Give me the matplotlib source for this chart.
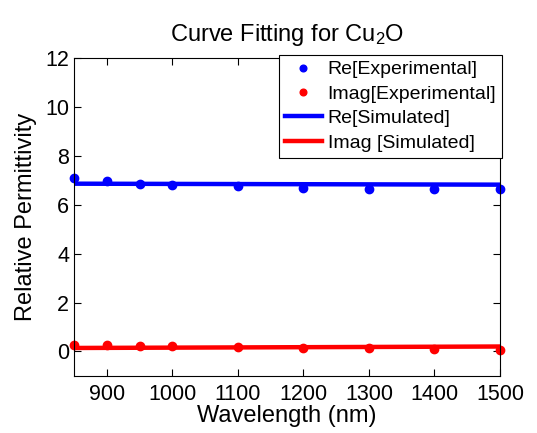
import matplotlib
matplotlib.use("Agg")
import matplotlib.pyplot as plt

plt.rcParams['font.family'] = ['Liberation Sans', 'DejaVu Sans']
plt.rcParams['mathtext.fontset'] = 'custom'
plt.rcParams['mathtext.rm'] = 'Liberation Sans'
plt.rcParams['mathtext.it'] = 'Liberation Sans'

wavelength = [850, 900, 950, 1000, 1100, 1200, 1300, 1400, 1500]
re_exp = [7.1, 6.95, 6.84, 6.8, 6.76, 6.7, 6.66, 6.66, 6.64]
imag_exp = [0.28, 0.26, 0.24, 0.22, 0.18, 0.15, 0.12, 0.09, 0.07]
sim_wl = [850, 1500]
re_sim = [6.86, 6.82]
imag_sim = [0.14, 0.2]

fig = plt.figure(figsize=(5.37, 4.33), dpi=100)
ax = fig.add_axes([0.138, 0.132, 0.793, 0.734])

# markers are not clipped at the axes edge (matlab style)
ax.plot(wavelength, re_exp, 'o', color='#0000ff', markersize=6, label='Re[Experimental]', clip_on=False)
ax.plot(wavelength, imag_exp, 'o', color='#ff0000', markersize=6, label='Imag[Experimental]', clip_on=False)
ax.plot(sim_wl, re_sim, '-', color='#0000ff', linewidth=3.2, label='Re[Simulated]')
ax.plot(sim_wl, imag_sim, '-', color='#ff0000', linewidth=3.2, label='Imag [Simulated]')

ax.set_xlim(850, 1500)
ax.set_ylim(-1, 12)
ax.set_xticks([900, 1000, 1100, 1200, 1300, 1400, 1500])
ax.set_yticks([0, 2, 4, 6, 8, 10, 12])
ax.tick_params(direction='in', top=True, right=True, labelsize=15.5, length=5)
ax.tick_params(axis='x', pad=6)
ax.set_xlabel('Wavelength (nm)', fontsize=17, labelpad=0)
ax.set_ylabel('Relative Permittivity', fontsize=17, labelpad=6)
ax.set_title('Curve Fitting for Cu$_2$O', fontsize=17, pad=12)

leg = ax.legend(loc='upper right', bbox_to_anchor=(502 / 537, 1 - 55 / 433),
                bbox_transform=fig.transFigure, fontsize=14, fancybox=False,
                framealpha=1, edgecolor='black', borderpad=0.3,
                labelspacing=0.35, handlelength=1.9, handletextpad=0.3,
                borderaxespad=0, markerscale=0.8)
leg.get_frame().set_linewidth(0.8)
leg.set_zorder(5)

fig.savefig('out.png', dpi=100)
